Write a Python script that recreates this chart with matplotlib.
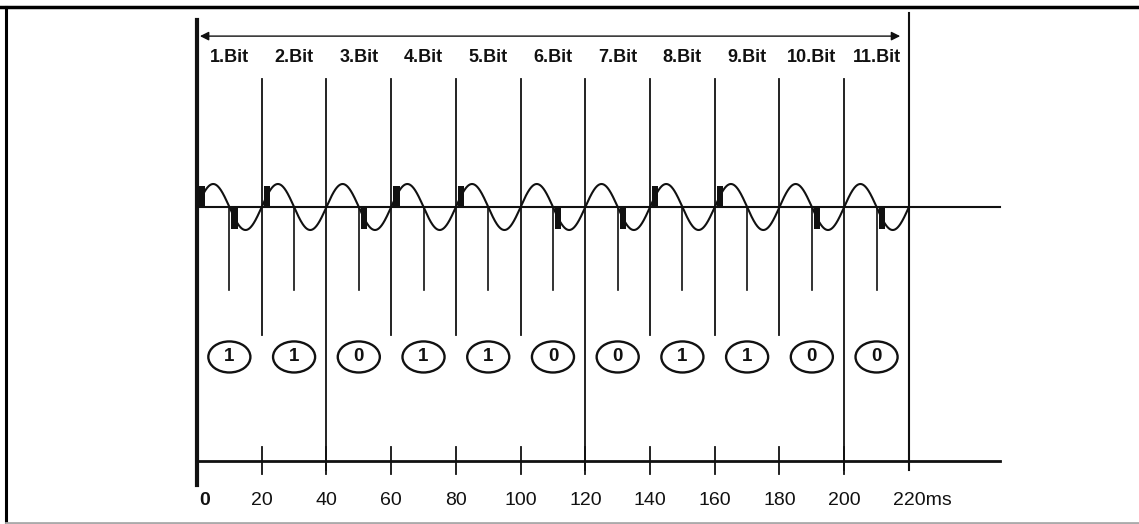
import numpy as np
import matplotlib
matplotlib.use('Agg')
import matplotlib.pyplot as plt
from matplotlib.patches import Ellipse, Rectangle
from matplotlib.lines import Line2D

# 11 bit telegram, one bit per 20 ms mains period
bit_values = [1, 1, 0, 1, 1, 0, 0, 1, 1, 0, 0]
bit_labels = ['1.Bit', '2.Bit', '3.Bit', '4.Bit', '5.Bit', '6.Bit',
              '7.Bit', '8.Bit', '9.Bit', '10.Bit', '11.Bit']
bit_ms = 20
period_ms = 20          # mains sine period
total_ms = 220

# pulse start times (ms): above the line for "1", below for "0"
pos_pulses = [0, 20, 60, 80, 140, 160]
neg_pulses = [10, 50, 110, 130, 190, 210]
pulse_ms = 2

tick_ms = [0, 20, 40, 60, 80, 100, 120, 140, 160, 180, 200, 220]
tick_labels = ['0', '20', '40', '60', '80', '100', '120', '140', '160',
               '180', '200', '220ms']
long_marks = [40, 120, 200]   # boundaries drawn down to the time axis

fig = plt.figure(figsize=(11.39, 5.24), dpi=100)
ax = fig.add_axes([0, 0, 1, 1])
ax.set_xlim(-197 / 3.236, (1139 - 197) / 3.236)
ax.set_ylim(-(524 - 207) / 23, 207 / 23)
ax.axis('off')

# frame of the scanned figure
fig.add_artist(Line2D([0, 1], [1 - 6.5 / 524, 1 - 6.5 / 524], color='black', lw=2.5,
                      transform=fig.transFigure))
fig.add_artist(Line2D([6 / 1139, 6 / 1139], [1 - 6.5 / 524, 2.5 / 524], color='black', lw=2.2,
                      transform=fig.transFigure))
fig.add_artist(Line2D([6 / 1139, 1], [1.5 / 524, 1.5 / 524], color='#aaaaaa', lw=2,
                      transform=fig.transFigure))

ink = '#111111'
bold = dict(family='Liberation Sans', weight='bold')

# top arrow spanning the telegram
ax.annotate('', xy=(0.9, 7.43), xytext=(217.3, 7.43),
            arrowprops=dict(arrowstyle='<|-|>', lw=1.0, color=ink,
                            mutation_scale=13, shrinkA=0, shrinkB=0))

n = len(bit_values)
mids = [bit_ms * i + bit_ms / 2 for i in range(n)]
for m, lab in zip(mids, bit_labels):
    ax.text(m, 6.48, lab, ha='center', va='center', fontsize=13, color=ink, **bold)

# bit boundaries
for t in range(bit_ms, total_ms, bit_ms):
    bottom = -11.43 if t in long_marks else -5.57
    ax.plot([t, t], [5.55, bottom], color=ink, lw=1.3)
ax.plot([0, 0], [8.13, -12.1], color=ink, lw=3)
ax.plot([total_ms, total_ms], [8.43, -11.43], color=ink, lw=1.5)

# half-bit markers
for m in mids:
    ax.plot([m, m], [0, -3.6], color=ink, lw=1.2)

# mains sine and zero line
t = np.linspace(0, total_ms, 3000)
ax.plot(t, np.sin(2 * np.pi * t / period_ms), color=ink, lw=1.5)
ax.plot([0, 248], [0, 0], color=ink, lw=1.5)

for p in pos_pulses:
    ax.add_patch(Rectangle((p + 0.6, 0), pulse_ms, 0.9, color=ink, lw=0))
for p in neg_pulses:
    ax.add_patch(Rectangle((p + 0.6, 0), pulse_ms, -0.95, color=ink, lw=0))

# decoded bit values
for m, v in zip(mids, bit_values):
    ax.add_patch(Ellipse((m, -6.52), 13, 1.35, fill=False, ec=ink, lw=1.7))
    ax.text(m, -6.52, str(v), ha='center', va='center', fontsize=13.5, color=ink, **bold)

# time axis
ax.plot([0, 248], [-11.04, -11.04], color=ink, lw=2)
for tk, lab in zip(tick_ms, tick_labels):
    if tk not in (0, total_ms):
        ax.plot([tk, tk], [-10.43, -11.6], color=ink, lw=1.3)
    if tk == 0:
        ax.text(tk + 0.6, -12.75, lab, ha='left', va='center', fontsize=14, color=ink,
                family='Liberation Sans', weight='bold')
    elif tk == total_ms:
        ax.text(tk - 5, -12.75, lab, ha='left', va='center', fontsize=14, color=ink,
                family='Liberation Sans')
    else:
        ax.text(tk, -12.75, lab, ha='center', va='center', fontsize=14, color=ink,
                family='Liberation Sans')

fig.savefig('out.png', dpi=100, facecolor='white')
